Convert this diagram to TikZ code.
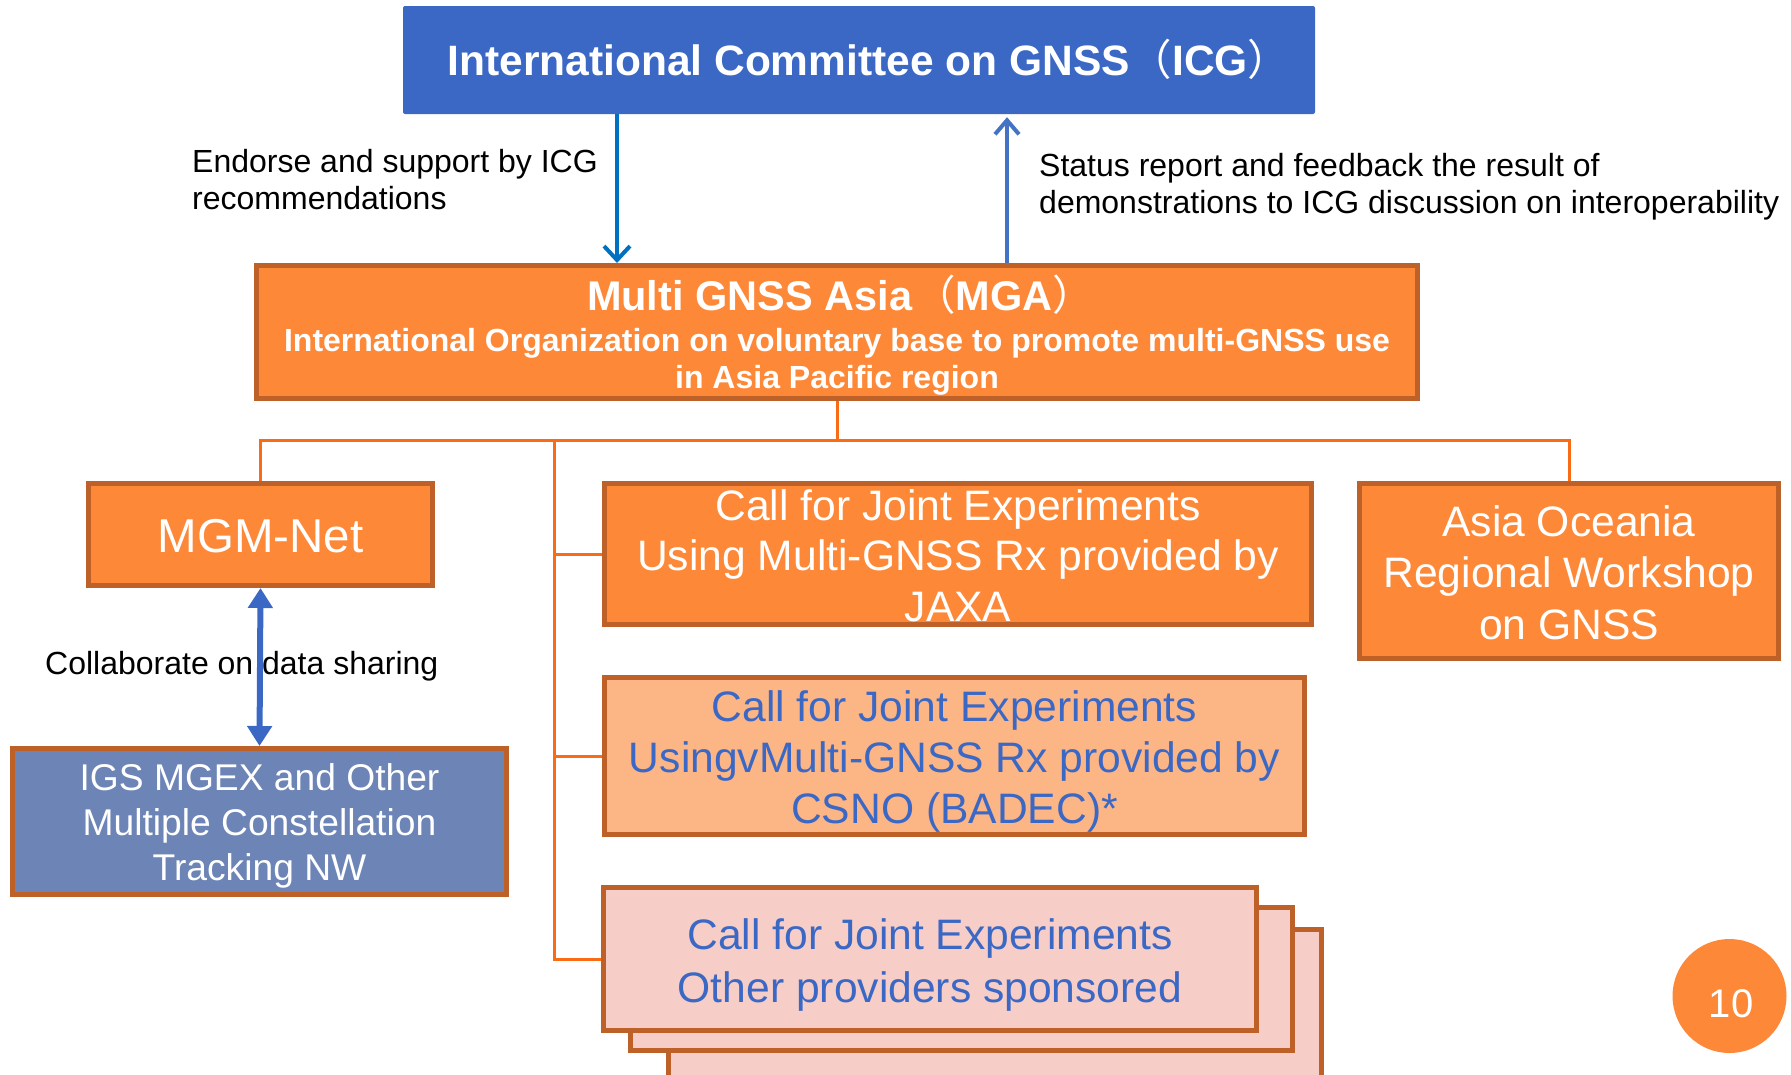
\documentclass[tikz,border=0pt]{standalone}
\usepackage{fontspec}
\setmainfont{Liberation Sans}
\newfontfamily\cjkfont{Noto Sans CJK JP}
\usetikzlibrary{arrows.meta}
\definecolor{icgblue}{HTML}{3A68C4}
\definecolor{downblue}{HTML}{0070C0}
\definecolor{upblue}{HTML}{4472C4}
\definecolor{orfill}{HTML}{FD8838}
\definecolor{oredge}{HTML}{BE6128}
\definecolor{treeor}{HTML}{F96B14}
\definecolor{csnofill}{HTML}{FCB585}
\definecolor{pinkfill}{HTML}{F6CEC7}
\definecolor{igsfill}{HTML}{6D84B6}
\definecolor{txtblue}{HTML}{3B68C4}
\newcommand\myfs[2]{\fontsize{#1}{#2}\selectfont}
\newcommand\lpar{{\cjkfont\mdseries （}}
\newcommand\rpar{{\cjkfont\mdseries ）}}
\begin{document}
\begin{tikzpicture}[x=1pt,y=-1pt,
  box/.style={draw=oredge, line width=5pt, inner sep=0pt},
  tree/.style={draw=treeor, line width=3pt},
  wtxt/.style={text=white, inner sep=0pt, anchor=base},
  btxt/.style={text=txtblue, inner sep=0pt, anchor=base},
  lbl/.style={text=black, inner sep=0pt, anchor=base west, font=\myfs{32}{38}},
  boxtxt/.style={font=\myfs{42.6}{50}}
]
\useasboundingbox (0,0) rectangle (1791,1074);
\clip (0,0) rectangle (1791,1074);

% ---------- boxes ----------
\node[fill=icgblue, minimum width=912pt, minimum height=108pt, inner sep=0pt, rounded corners=2pt] (icg) at (859,60) {};
\node[box, fill=orfill, minimum width=1161pt, minimum height=133pt] (mga) at (837,332) {};
\node[box, fill=orfill, minimum width=344pt, minimum height=102pt] (mgm) at (260.5,534.5) {};
\node[box, fill=orfill, minimum width=707pt, minimum height=141pt] (jaxa) at (958,554) {};
\node[box, fill=csnofill, minimum width=700pt, minimum height=157pt] (csno) at (954.5,756) {};
\node[box, fill=pinkfill, minimum width=653pt, minimum height=168pt] (other3) at (995,1013.5) {};
\node[box, fill=pinkfill, minimum width=662pt, minimum height=143pt] (other2) at (961.5,979) {};
\node[box, fill=pinkfill, minimum width=653pt, minimum height=143pt] (other) at (930,959) {};
\node[box, fill=orfill, minimum width=419pt, minimum height=175pt] (ao) at (1569,571) {};
\node[box, fill=igsfill, minimum width=494pt, minimum height=146pt] (igs) at (259.5,821.5) {};
\node[circle, fill=orfill, minimum size=114pt, inner sep=0pt] (pg) at (1729.5,996) {};

% ---------- texts ----------
\node[wtxt, font=\bfseries\myfs{42.5}{50}] (ticg) at (869,75) {International Committee on GNSS\lpar ICG\rpar};
\node[wtxt, font=\bfseries\myfs{41.5}{48}] (tmga1) at (840.5,310) {Multi GNSS Asia\hspace{2pt}\lpar MGA\rpar};
\node[wtxt, font=\bfseries\myfs{32}{38}] (tmga2) at (837,351) {International Organization on voluntary base to promote multi-GNSS use};
\node[wtxt, font=\bfseries\myfs{32}{38}] (tmga3) at (837,388) {in Asia Pacific region};

\node[wtxt, font=\myfs{47.5}{54}] (tmgm) at (260.5,552) {MGM-Net};

\node[wtxt, boxtxt] (tj1) at (958,520) {Call for Joint Experiments};
\node[wtxt, boxtxt] (tj2) at (958,570) {Using Multi-GNSS Rx provided by};
\node[wtxt, boxtxt] (tj3) at (958,621) {JAXA};

\node[btxt, boxtxt] (tc1) at (954.5,721) {Call for Joint Experiments};
\node[btxt, boxtxt] (tc2) at (954.5,772) {UsingvMulti-GNSS Rx provided by};
\node[btxt, boxtxt] (tc3) at (954.5,823) {CSNO (BADEC)*};

\node[btxt, boxtxt] (to1) at (930,949) {Call for Joint Experiments};
\node[btxt, boxtxt] (to2) at (930,1002) {Other providers sponsored};

\node[wtxt, boxtxt] (ta1) at (1569,536) {Asia Oceania};
\node[wtxt, boxtxt] (ta2) at (1569,587) {Regional Workshop};
\node[wtxt, boxtxt] (ta3) at (1569,639) {on GNSS};

\node[wtxt, font=\myfs{37.2}{44}] (ti1) at (259.5,790) {IGS MGEX and Other};
\node[wtxt, font=\myfs{37.2}{44}] (ti2) at (259.5,835) {Multiple Constellation};
\node[wtxt, font=\myfs{37.2}{44}] (ti3) at (259.5,880) {Tracking NW};

\node[wtxt, font=\myfs{40}{46}] (tpg) at (1731,1017) {10};

% ---------- tree connectors ----------
\coordinate (hub) at (837,440);
\coordinate (trunk) at (554,440);
\draw[tree] (mga.south) -- (hub);
\draw[tree] (mgm.north) |- (hub) -| (ao.north);
\draw[tree] (trunk) |- (jaxa.west);
\draw[tree] (trunk) |- (csno.west);
\draw[tree] (trunk) |- (other.west);

% ---------- arrows ----------
\coordinate (xa) at (617,0);
\coordinate (xb) at (1007,0);
\draw[downblue, line width=4.5pt, -{Straight Barb[length=14pt,width=26pt,line width=4pt]}]
  (icg.south -| xa) -- (mga.north -| xa);
\draw[upblue, line width=4pt, -{Straight Barb[length=14pt,width=24pt,line width=4pt]}]
  (mga.north -| xb) -- ([yshift=-3pt]icg.south -| xb);
\draw[icgblue, line width=6pt, {Triangle[length=20pt,width=24pt]}-{Triangle[length=20pt,width=24pt]}]
  (mgm.south) -- (igs.north);

% ---------- labels ----------
\node[lbl] (l1) at (192,172) {Endorse and support by ICG};
\node[lbl] (l2) at (192,209) {recommendations};
\node[lbl] (l3) at (1039,176) {Status report and feedback the result of};
\node[lbl] (l4) at (1039,213) {demonstrations to ICG discussion on interoperability};
\node[lbl] (l5) at (45,674) {Collaborate on data sharing};
\end{tikzpicture}
\end{document}
